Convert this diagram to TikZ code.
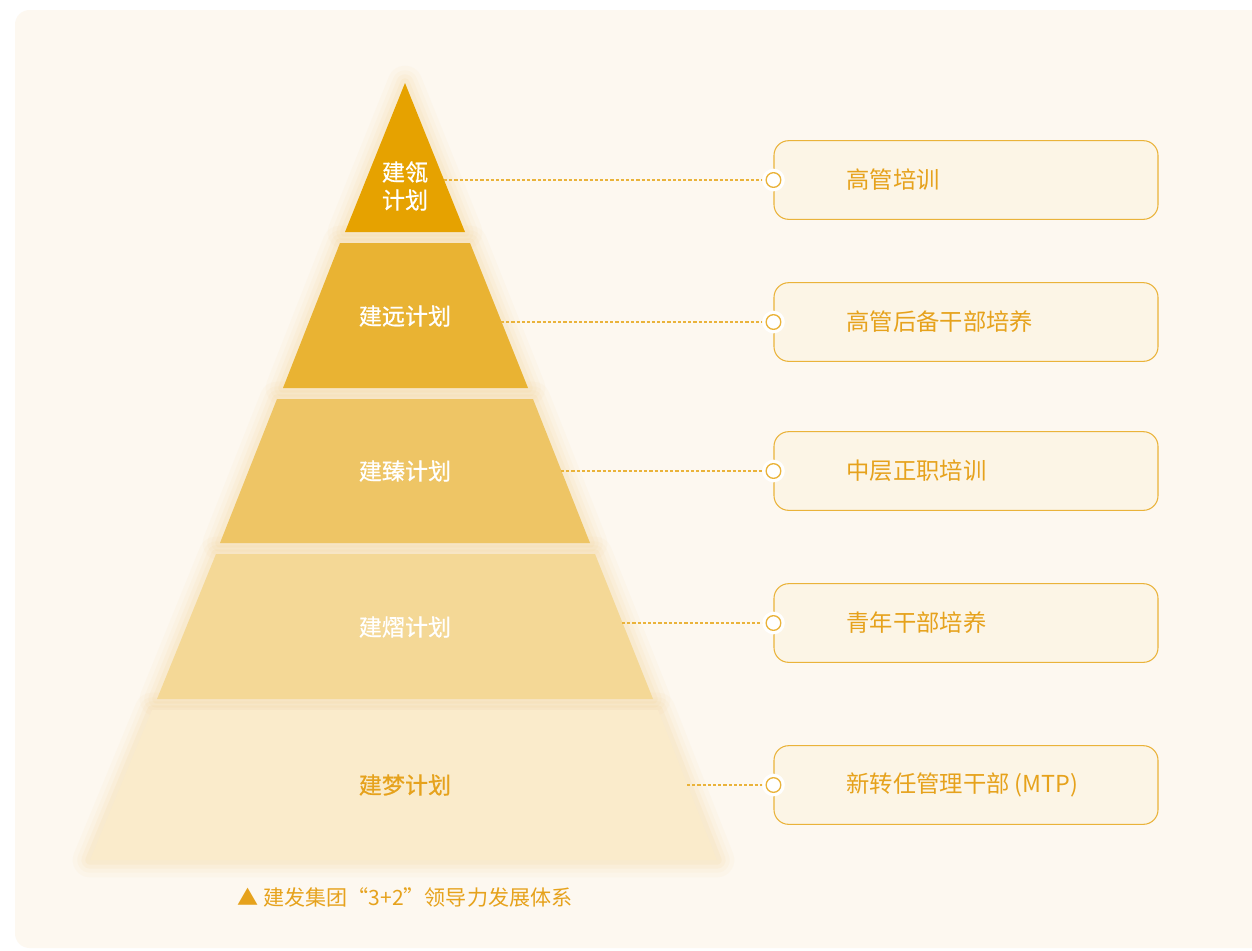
\documentclass[tikz,border=0pt]{standalone}
\usepackage{fontspec}
\setmainfont{Noto Sans CJK SC}
\newfontfamily\medfont{Noto Sans CJK SC}[FakeBold=0.6]
\usetikzlibrary{positioning}

\definecolor{cardbg}{HTML}{FDF8F0}
\definecolor{tierA}{HTML}{E6A200}
\definecolor{tierB}{HTML}{E9B333}
\definecolor{tierC}{HTML}{EEC565}
\definecolor{tierD}{HTML}{F4D896}
\definecolor{tierE}{HTML}{FAEBCB}
\definecolor{glow}{HTML}{F0C878}
\definecolor{boxfill}{HTML}{FCF5E6}
\definecolor{boxline}{HTML}{EAB33A}
\definecolor{txtorange}{HTML}{E6A21C}

\tikzset{
  tierlabel/.style={text=white, font=\medfont\fontsize{17.3}{22}\selectfont, align=center},
  planbox/.style={draw=boxline, line width=0.8pt, fill=boxfill, rounded corners=11pt,
    minimum width=288pt, minimum height=59pt, inner sep=0pt},
  boxtext/.style={text=txtorange, font=\fontsize{17.5}{22}\selectfont, inner sep=0pt, anchor=west},
  link/.style={draw=boxline, line width=0.8pt, dash pattern=on 2.4pt off 1.5pt},
  dot/.style={circle, draw=boxline, fill=white, line width=1pt, minimum size=11pt, inner sep=0pt},
  halo/.style={circle, fill=white, minimum size=17pt, inner sep=0pt},
}

\begin{document}
\begin{tikzpicture}[x=0.75pt, y=-0.75pt, line join=round]
    \useasboundingbox (0,0) rectangle (1252,950);
    \fill[white] (0,0) rectangle (1252,950);
    \fill[cardbg, rounded corners=11pt] (15,10) rectangle (1290,948);

    % pyramid corners
    \coordinate (A1) at (405,83);  \coordinate (B1) at (465,232); \coordinate (C1) at (345,232);
    \coordinate (A2) at (340,243); \coordinate (B2) at (470,243); \coordinate (C2) at (528,388); \coordinate (D2) at (283,388);
    \coordinate (A3) at (277,399); \coordinate (B3) at (533,399); \coordinate (C3) at (590,543); \coordinate (D3) at (220,543);
    \coordinate (A4) at (216,554); \coordinate (B4) at (595,554); \coordinate (C4) at (653,699); \coordinate (D4) at (157,699);
    \coordinate (A5) at (152,710); \coordinate (B5) at (658,710); \coordinate (C5) at (717,860); \coordinate (D5) at (90,860);

    % soft glow behind the tiers
    \foreach \w/\o in {26/0.05, 19/0.06, 13/0.08, 7/0.10} {
        \draw[glow, line width=\w pt, opacity=\o, yshift=-3pt] (A1)--(B1)--(C1)--cycle;
        \draw[glow, line width=\w pt, opacity=\o, yshift=-3pt] (A2)--(B2)--(C2)--(D2)--cycle;
        \draw[glow, line width=\w pt, opacity=\o, yshift=-3pt] (A3)--(B3)--(C3)--(D3)--cycle;
        \draw[glow, line width=\w pt, opacity=\o, yshift=-3pt] (A4)--(B4)--(C4)--(D4)--cycle;
        \draw[glow, line width=\w pt, opacity=\o, yshift=-3pt] (A5)--(B5)--(C5)--(D5)--cycle;
    }

    \fill[tierA] (A1)--(B1)--(C1)--cycle;
    \fill[tierB] (A2)--(B2)--(C2)--(D2)--cycle;
    \fill[tierC] (A3)--(B3)--(C3)--(D3)--cycle;
    \fill[tierD] (A4)--(B4)--(C4)--(D4)--cycle;
    \fill[tierE] (A5)--(B5)--(C5)--(D5)--cycle;

    \node[tierlabel] (t1) at (405,186) {建瓴\\[-1pt]计划};
    \node[tierlabel] (t2) at (405,316) {建远计划};
    \node[tierlabel] (t3) at (405,471) {建臻计划};
    \node[tierlabel] (t4) at (405,627) {建熠计划};
    \node[tierlabel, text=txtorange] (t5) at (405,785) {建梦计划};

    % programme boxes
    \node[planbox] (b1) at (966,180) {};
    \node[planbox] (b2) at (966,322) {};
    \node[planbox] (b3) at (966,471) {};
    \node[planbox] (b4) at (966,623) {};
    \node[planbox] (b5) at (966,785) {};

    \node[boxtext, right=54.5pt of b1.west] (p1) {高管培训};
    \node[boxtext, right=54.5pt of b2.west] (p2) {高管后备干部培养};
    \node[boxtext, right=54.5pt of b3.west] (p3) {中层正职培训};
    \node[boxtext, right=54.5pt of b4.west] (p4) {青年干部培养};
    \node[boxtext, right=54.5pt of b5.west] (p5) {新转任管理干部 (MTP)};

    % connectors
    \coordinate (e1) at (444,180);
    \coordinate (e2) at (501,322);
    \coordinate (e3) at (561,471);
    \coordinate (e4) at (622,623);
    \coordinate (e5) at (687,785);
    \draw[link] (e1) -- (b1.west);
    \draw[link] (e2) -- (b2.west);
    \draw[link] (e3) -- (b3.west);
    \draw[link] (e4) -- (b4.west);
    \draw[link] (e5) -- (b5.west);
    \foreach \b in {b1,b2,b3,b4,b5} {
        \node[halo] at (\b.west) {};
        \node[dot] at (\b.west) {};
    }

    \node[text=txtorange, font=\fontsize{15.8}{18}\selectfont] (cap) at (405,897) {▲ 建发集团“3+2”领导力发展体系};
\end{tikzpicture}
\end{document}
